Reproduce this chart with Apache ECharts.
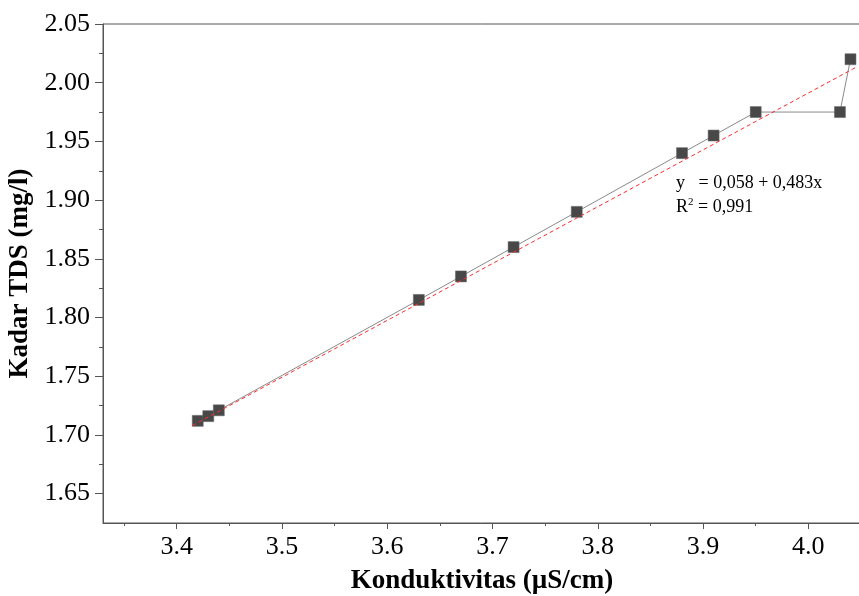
<!DOCTYPE html>
<html>
<head>
<meta charset="utf-8">
<script src="https://cdn.jsdelivr.net/npm/echarts@6/dist/echarts.min.js"></script>
<style>
  html, body { margin: 0; padding: 0; background: #fff; }
  #chart { width: 859px; height: 596px; }
</style>
</head>
<body>
<div id="chart"></div>
<script>
// measured points (conductivity vs TDS)
const conductivity = [3.42, 3.43, 3.44, 3.63, 3.67, 3.72, 3.78, 3.88, 3.91, 3.95, 4.03, 4.04];
const tds = [1.712, 1.716, 1.721, 1.815, 1.835, 1.86, 1.89, 1.94, 1.955, 1.975, 1.975, 2.02];

// linear fit line end points
const fitX = [3.415, 4.045];
const fitY = [1.708, 2.013];

// tick labels
const xMajor = [3.4, 3.5, 3.6, 3.7, 3.8, 3.9, 4.0];
const xMinor = [3.35, 3.45, 3.55, 3.65, 3.75, 3.85, 3.95, 4.05];
const yMajor = [1.65, 1.70, 1.75, 1.80, 1.85, 1.90, 1.95, 2.00, 2.05];
const yMinor = [1.675, 1.725, 1.775, 1.825, 1.875, 1.925, 1.975, 2.025];

const axisColor = '#555';
const serif = '"Liberation Serif", "Times New Roman", serif';

const chart = echarts.init(document.getElementById('chart'));

const xRange = { min: 3.33, max: 4.05 };
const yRange = { min: 1.625, max: 2.05 };

chart.setOption({
  backgroundColor: '#fff',
  animation: false,
  grid: {
    left: 103, top: 24, right: -2, bottom: 73,
    outerBoundsMode: 'none',
    show: true, borderColor: axisColor, borderWidth: 1
  },
  xAxis: [
    {
      type: 'value', ...xRange,
      name: 'Konduktivitas (µS/cm)',
      nameLocation: 'middle',
      nameGap: 45,
      nameTextStyle: { fontFamily: serif, fontWeight: 'bold', fontSize: 27, color: '#000' },
      axisLine: { show: true, lineStyle: { color: axisColor } },
      axisTick: { show: true, length: 6, customValues: xMajor, lineStyle: { color: axisColor } },
      axisLabel: {
        customValues: xMajor, margin: 11,
        fontFamily: serif, fontSize: 26, color: '#000',
        formatter: v => v.toFixed(1)
      },
      splitLine: { show: false }
    },
    {
      type: 'value', ...xRange, position: 'bottom',
      axisLine: { show: false },
      axisTick: { show: true, length: 3, customValues: xMinor, lineStyle: { color: axisColor } },
      axisLabel: { show: false },
      splitLine: { show: false }
    }
  ],
  yAxis: [
    {
      type: 'value', ...yRange,
      name: 'Kadar TDS (mg/l)',
      nameLocation: 'middle',
      nameGap: 61,
      nameTextStyle: { fontFamily: serif, fontWeight: 'bold', fontSize: 27, color: '#000' },
      axisLine: { show: true, lineStyle: { color: axisColor } },
      axisTick: { show: true, length: 8, customValues: yMajor, lineStyle: { color: axisColor } },
      axisLabel: {
        customValues: yMajor, margin: 13,
        fontFamily: serif, fontSize: 26, color: '#000',
        formatter: v => v.toFixed(2)
      },
      splitLine: { show: false }
    },
    {
      type: 'value', ...yRange, position: 'left',
      axisLine: { show: false },
      axisTick: { show: true, length: 4, customValues: yMinor, lineStyle: { color: axisColor } },
      axisLabel: { show: false },
      splitLine: { show: false }
    }
  ],
  graphic: [
    {
      type: 'text', left: 676, top: 174,
      style: { text: 'y   = 0,058 + 0,483x', font: '18px ' + serif, fill: '#000' }
    },
    {
      type: 'text', left: 676, top: 197,
      style: {
        text: '{a|R}{s|2}{a| = 0,991}',
        rich: {
          a: { fontFamily: serif, fontSize: 18, color: '#000' },
          s: { fontFamily: serif, fontSize: 11, color: '#000', padding: [0, 0, 9, 0] }
        }
      }
    }
  ],
  series: [
    {
      type: 'line',
      xAxisIndex: 0, yAxisIndex: 0,
      data: conductivity.map((x, i) => [x, tds[i]]),
      symbol: 'rect',
      symbolSize: 11,
      showAllSymbol: true,
      lineStyle: { color: '#8a8a8a', width: 1 },
      itemStyle: { color: '#484848', borderColor: '#666', borderWidth: 0.5 },
      z: 2
    },
    {
      type: 'line',
      xAxisIndex: 0, yAxisIndex: 0,
      data: fitX.map((x, i) => [x, fitY[i]]),
      symbol: 'none',
      lineStyle: { color: '#ff2b2b', width: 1, type: [4, 3] },
      z: 3
    }
  ]
});
</script>
</body>
</html>
